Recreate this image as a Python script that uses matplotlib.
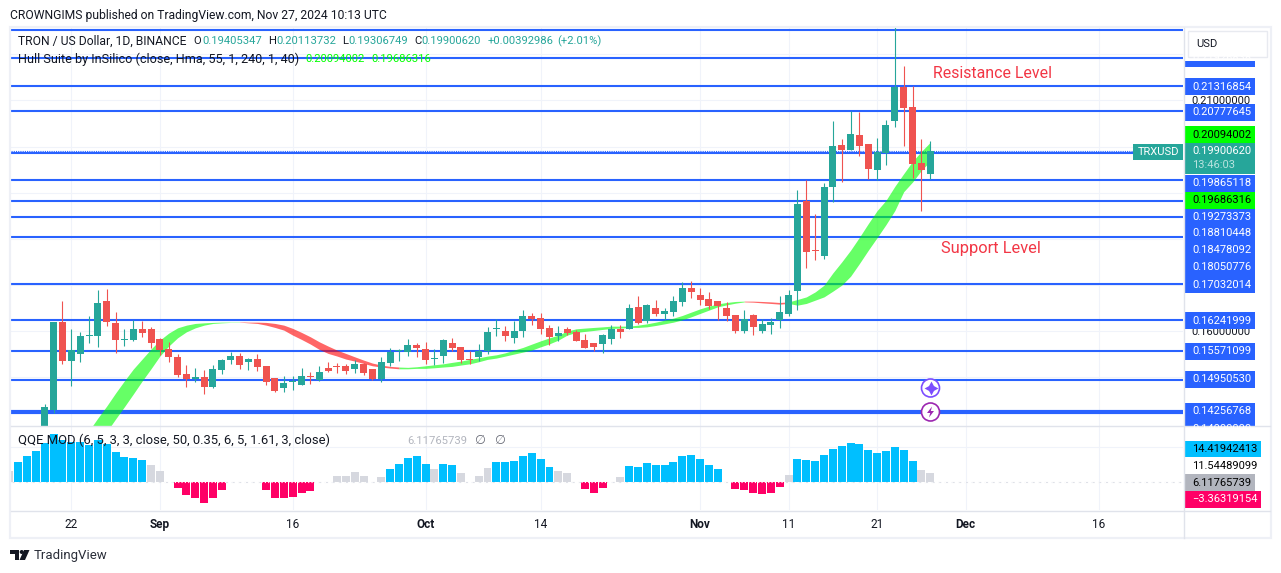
import matplotlib
matplotlib.use('Agg')
import matplotlib.pyplot as plt
from matplotlib.patches import Rectangle, Circle, Polygon
from matplotlib.ticker import FixedLocator

plt.rcParams['font.family'] = ['Roboto', 'DejaVu Sans']

# candles, day 0 = Aug 22 2024, first candle is day -3
candle_start = -3
opens = [.13640, .14290, .16195, .15351, .15503, .15892, .15892, .16650, .16174, .15806,
         .15806, .16044, .16044, .15828, .15611, .15438, .15070, .14962, .15005, .14789,
         .15157, .15373, .15460, .15330, .15395, .15243, .14983, .14767, .14897, .14832,
         .15027, .14940, .15200, .15243, .15243, .15178, .15286, .15178, .14962, .15308,
         .15568, .15546, .15698, .15611, .15395, .15460, .15741, .15654, .15395, .15438,
         .15568, .16044, .16001, .15849, .16001, .16325, .16282, .16066, .15892, .16044,
         .15979, .15806, .15741, .15719, .15828, .16044, .16044, .16520, .16217, .16498,
         .16368, .16412, .16628, .16931, .16779, .16693, .16650, .16498, .16347, .16001,
         .16347, .16001, .16130, .16239, .16368, .16866, .18814, .17753, .17624, .19117,
         .20026, .19918, .20242, .20048, .19485, .19853, .20545, .21281, .20849, .19637,
         .19405]
highs = [.14420, .16195, .16650, .16044, .15979, .16325, .16888, .16909, .16412, .16044,
         .16239, .16217, .16087, .15849, .15763, .15503, .15265, .15200, .15157, .15265,
         .15395, .15546, .15525, .15416, .15503, .15243, .14983, .15027, .15027, .15200,
         .15113, .15243, .15330, .15308, .15286, .15373, .15308, .15178, .15438, .15633,
         .15611, .15828, .15741, .15763, .15611, .15828, .15849, .15654, .15568, .15719,
         .16087, .16260, .16109, .16217, .16455, .16390, .16390, .16130, .16109, .16087,
         .16022, .15936, .15741, .15936, .16130, .16130, .16585, .16758, .16585, .16671,
         .16498, .16758, .17061, .17082, .16931, .16844, .16650, .16628, .16347, .16455,
         .16368, .16260, .16282, .16758, .16888, .19052, .19268, .18532, .19203, .20545,
         .20156, .20762, .20740, .20048, .20178, .20567, .22732, .21736, .21303, .20156,
         .20114]
lows = [.13532, .14225, .15286, .14810, .15330, .15741, .15654, .16109, .15525, .15676,
        .15784, .15871, .15633, .15481, .15330, .15005, .14789, .14897, .14637, .14767,
        .15070, .15286, .15178, .15157, .15135, .14832, .14681, .14681, .14724, .14832,
        .14854, .14919, .15113, .15092, .15070, .15092, .15048, .14940, .14897, .15243,
        .15351, .15460, .15438, .15286, .15265, .15308, .15568, .15308, .15286, .15351,
        .15503, .15892, .15784, .15741, .15871, .16130, .15936, .15698, .15784, .15914,
        .15784, .15633, .15568, .15525, .15719, .15849, .16044, .16152, .16174, .16325,
        .16239, .16325, .16541, .16715, .16563, .16477, .16239, .16217, .15957, .15957,
        .15914, .15957, .15936, .16066, .16325, .16455, .17364, .17537, .17558, .18792,
        .19225, .19918, .19788, .19290, .19268, .19593, .20416, .20004, .19312, .18597,
        .19307]
closes = [.14355, .16195, .15351, .15589, .15892, .15914, .16606, .16195, .15806, .15828,
          .16044, .15957, .15741, .15589, .15438, .15048, .14962, .15005, .14789, .15178,
          .15373, .15460, .15265, .15395, .15222, .14897, .14702, .14875, .14919, .15027,
          .15005, .15113, .15135, .15222, .15135, .15286, .15092, .14962, .15330, .15546,
          .15589, .15698, .15633, .15373, .15416, .15806, .15633, .15373, .15373, .15568,
          .15979, .16066, .15892, .16001, .16325, .16260, .16044, .15871, .15957, .15957,
          .15784, .15633, .15654, .15914, .16044, .15979, .16498, .16174, .16563, .16368,
          .16433, .16650, .16931, .16844, .16671, .16541, .16541, .16325, .16001, .16260,
          .16087, .16152, .16195, .16412, .16779, .18749, .17710, .17732, .19117, .20004,
          .19918, .20264, .20004, .19506, .19874, .20459, .21281, .20827, .19615, .19485,
          .19900]

# hull band, first value is day 2
hull_start = 2
hull_upper = [.13842, .14117, .14377, .14658, .14924, .15178, .15395, .15611, .15806, .15957,
              .16071, .16130, .16167, .16180, .16189, .16195, .16195, .16201, .16195, .16195,
              .16189, .16167, .16130, .16059, .15972, .15877, .15769, .15676, .15589, .15517,
              .15444, .15373, .15308, .15265, .15236, .15222, .15215, .15228, .15249, .15271,
              .15292, .15323, .15351, .15388, .15422, .15459, .15487, .15530, .15589, .15647,
              .15719, .15790, .15855, .15914, .16001, .16050, .16066, .16080, .16093, .16108,
              .16108, .16108, .16130, .16158, .16195, .16239, .16282, .16340, .16412, .16483,
              .16541, .16591, .16621, .16643, .16650, .16650, .16643, .16634, .16621, .16634,
              .16686, .16742, .16850, .16996, .17262, .17500, .17753, .18035, .18331, .18613,
              .18835, .19139, .19413, .19680, .19896, .20094]
hull_lower = [.13273, .13554, .13820, .14095, .14362, .14637, .14919, .15184, .15460, .15676,
              .15855, .15985, .16071, .16130, .16167, .16180, .16189, .16195, .16180, .16167,
              .16130, .16080, .16022, .15914, .15820, .15719, .15604, .15517, .15460, .15395,
              .15351, .15301, .15249, .15222, .15200, .15184, .15184, .15193, .15193, .15206,
              .15222, .15236, .15265, .15292, .15336, .15388, .15416, .15459, .15503, .15546,
              .15589, .15660, .15725, .15806, .15914, .15972, .15994, .16015, .16037, .16059,
              .16066, .16080, .16080, .16093, .16123, .16158, .16195, .16245, .16310, .16383,
              .16455, .16526, .16569, .16606, .16634, .16628, .16613, .16600, .16585, .16600,
              .16563, .16600, .16671, .16742, .16866, .16996, .17190, .17465, .17753, .18028,
              .18309, .18613, .19022, .19232, .19485, .19686]
hull_phases = [(2, 19, '#00ff00'), (19, 37, '#ff0000'), (37, 76, '#00ff00'), (76, 81, '#ff0000'), (81, 97, '#00ff00')]

# horizontal lines drawn on the chart
level_prices = [.22537, .21909, .21316854, .20777645, .19865118, .19273373, .18810448, .18478092,
                .18050776, .17032014, .16241999, .15571099, .14950530]
thick_level = .14256768
last_price = .19900620

# qqe histogram, first value is day -7
qqe_start = -7
qqe_values = [7.7, 14.2, 18.5, 22.1, 27.8, 34.3, 30, 28.6, 28.6, 26.4, 30, 27.1, 21.4, 17.8, 17, 15.6, 12, 7.7, 0,
              -4.6, -9.6, -11.8, -15.4, -11.8, -6, 0, 0, 0, 0, -6, -11.8, -11.8, -11, -8.2, -6.7, 0, 0,
              4.1, 4.1, 7, 4.1, 0, 3.4, 9.1, 12.7, 17, 18.5, 12.7, 9.1, 12.7, 12, 6.2, 0, 4.1, 9.8, 14.2, 14.2,
              14.9, 18.5, 20.6, 16.3, 10.6, 7.7, 6.2, 0, -5.3, -8.2, -4.6, 0, 3.4, 11.3, 10.6, 13.4, 12, 12,
              14.2, 18.5, 19.2, 16.3, 12, 9.1, 0, -5.3, -6, -8.2, -8.9, -8.2, -3.8, 4.8, 16.3, 15.6, 14.9,
              19.2, 23.5, 25.7, 27.8, 27.1, 22.8, 20.6, 22.1, 25, 22.8, 14.9, 8.4, 6.12]
qqe_grey_days = [-7, 9, 10, 30, 31, 32, 33, 35, 41, 44, 46, 47, 55, 56, 62, 81, 96, 97]

# x axis
tick_days = [0, 10, 25, 40, 53, 71, 81, 91, 101, 116]
tick_labels = ['22', 'Sep', '16', 'Oct', '14', 'Nov', '11', '21', 'Dec', '16']
month_labels = ['Sep', 'Oct', 'Nov', 'Dec']
price_ticks = [.15, .16, .17, .18, .19, .20, .21, .22]
shown_price_ticks = [.16, .21]  # the others sit behind the price tags

# price tags on the right: text, centre y, box colour, text colour
price_tags = [('0.21926838', 58, '#2962ff', 'white'),
              ('0.21316854', 86.5, '#2962ff', 'white'),
              ('0.20777645', 112, '#2962ff', 'white'),
              ('0.20094002', 134.5, '#00ff00', 'black'),
              ('0.19865118', 183, '#2962ff', 'white'),
              ('0.19686316', 200, '#00ff00', 'black'),
              ('0.19273373', 217, '#2962ff', 'white'),
              ('0.18810448', 233.5, '#2962ff', 'white'),
              ('0.18478092', 250, '#2962ff', 'white'),
              ('0.18050776', 267.5, '#2962ff', 'white'),
              ('0.17032014', 284.5, '#2962ff', 'white'),
              ('0.16241999', 320.5, '#2962ff', 'white'),
              ('0.15571099', 351.5, '#2962ff', 'white'),
              ('0.14950530', 379.5, '#2962ff', 'white'),
              ('0.14256768', 411.5, '#2962ff', 'white'),
              ('0.14000000', 428.5, '#2962ff', 'white')]

TEAL = '#26a69a'
RED = '#ef5350'
BLUE = '#2962ff'
GRID = '#f0f3fa'
BORDER = '#e0e3eb'
DARK = '#131722'

fig = plt.figure(figsize=(12.81, 5.73), dpi=100)
W, H = 1281.0, 573.0
ax = fig.add_axes([11 / W, 1 - 426 / H, 1172 / W, 398 / H])  # price pane
ax2 = fig.add_axes([11 / W, 1 - 510 / H, 1172 / W, 83 / H], sharex=ax)  # qqe pane

ax.set_xlim(-6.81, 125.54)
ax.set_ylim(.13944, .2257)
ax2.set_ylim(-20.4, 39.4)

for a in (ax, ax2):
    a.set_axisbelow(True)
    a.xaxis.set_major_locator(FixedLocator(tick_days))
    a.grid(True, color=GRID, lw=.8)
    for s in a.spines.values():
        s.set_visible(False)
    a.tick_params(length=0)
ax.tick_params(axis='x', labelbottom=False)

ax.yaxis.tick_right()
ax.set_yticks(price_ticks)
ax.set_yticklabels([f'{p:.8f}' if p in shown_price_ticks else '' for p in price_ticks], fontsize=8, color=DARK)
ax.tick_params(axis='y', pad=6)

ax2.set_yticks([25])
ax2.set_yticklabels([])
ax2.set_xticklabels(tick_labels, fontsize=8.5, color=DARK)
ax2.tick_params(axis='x', pad=6)
for t in ax2.get_xticklabels():
    if t.get_text() in month_labels:
        t.set_fontweight('bold')

# blue levels, then the band on top of them, then the candles
for p in level_prices:
    ax.axhline(p, color=BLUE, lw=1.5, zorder=1)
ax.axhline(thick_level, color=BLUE, lw=3, zorder=1)
ax.axhline(last_price, color=BLUE, lw=.8, ls=(0, (1, 1)), zorder=1)

hull_days = [hull_start + i for i in range(len(hull_upper))]
for start, end, col in hull_phases:
    i0, i1 = start - hull_start, end - hull_start + 1
    ax.fill_between(hull_days[i0:i1], hull_lower[i0:i1], hull_upper[i0:i1], color=col, alpha=.6, lw=0, zorder=2)

for i in range(len(opens)):
    day = candle_start + i
    col = TEAL if closes[i] >= opens[i] else RED
    ax.vlines(day, lows[i], highs[i], color=col, lw=.8, zorder=3)
    ax.bar(day, abs(closes[i] - opens[i]), bottom=min(opens[i], closes[i]), width=.79, color=col, lw=0, zorder=4)

# qqe pane
ax2.axhline(0, color='#dfe1e8', lw=.8, ls=(0, (3, 3)), zorder=1)
for i, v in enumerate(qqe_values):
    day = qqe_start + i
    if v == 0:
        continue
    if v < 0:
        col = '#ff0066'
    elif day in qqe_grey_days:
        col = '#d6d8df'
    else:
        col = '#00bfff'
    ax2.bar(day, v, width=.9, color=col, lw=0, zorder=2)
ax2.axhline(0, color='white', lw=.8, ls=(0, (1, 2)), zorder=3)

# overlay in pixel coordinates for the labels and frame
ov = fig.add_axes([0, 0, 1, 1], zorder=10)
ov.set_xlim(0, W)
ov.set_ylim(H, 0)
ov.axis('off')
ov.patch.set_alpha(0)


def label(x, y, s, color=DARK, size=8.5, **kw):
    ov.text(x, y, s, color=color, fontsize=size, va='center', ha=kw.pop('ha', 'left'), **kw)


def tag(x0, x1, y0, y1, color):
    ov.add_patch(Rectangle((x0, y0), x1 - x0, y1 - y0, color=color, lw=0))


label(10, 15, 'CROWNGIMS published on TradingView.com, Nov 27, 2024 10:13 UTC', size=8.7)

label(18, 41.5, 'TRON / US Dollar, 1D, BINANCE', size=8.7)
for x, s, c in [(193, 'O', DARK), (202, '0.19405347', TEAL), (268, 'H', DARK), (276, '0.20113732', TEAL),
                (342, 'L', DARK), (348, '0.19306749', TEAL), (414, 'C', DARK), (421, '0.19900620', TEAL),
                (488, '+0.00392986', TEAL), (557, '(+2.01%)', TEAL)]:
    label(x, 41.5, s, c, size=8.1)
label(18, 59, 'Hull Suite by InSilico (close, Hma, 55, 1, 240, 1, 40)', size=9.1)
label(305, 59, '0.20094002', '#00ff00', size=8.1)
label(371, 59, '0.19686316', '#00ff00', size=8.1)

label(18, 440.5, 'QQE MOD (6, 5, 3, 3, close, 50, 0.35, 6, 5, 1.61, 3, close)', size=9.35)
label(407, 440.5, '6.11765739', '#b2b5be', size=8.1)
label(474, 440.5, '∅', '#6a6d78', size=9, family=['DejaVu Sans'])
label(494, 440.5, '∅', '#6a6d78', size=9, family=['DejaVu Sans'])

label(933, 73, 'Resistance Level', '#f23645', size=11.4)
label(941, 249, 'Support Level', '#f23645', size=11.8)

# signal icons
ov.add_patch(Circle((930.5, 388), 9, fc='white', ec='#7c4dff', lw=1.2))
ov.plot([930.5], [388], marker=(4, 1, 0), ms=10, color='#7c4dff', mew=0)
ov.add_patch(Circle((930.5, 412), 9, fc='white', ec='#9c27b0', lw=1.2))
ov.add_patch(Polygon([(932, 406.5), (927, 413), (930.2, 413), (929, 417.5), (934, 411), (930.8, 411)], color='#9c27b0', lw=0))

# right scale tags
for s, y, c, tc in price_tags:
    tag(1184, 1255, y - 8.5, y + 8.5, c)
    label(1192, y, s, tc, size=8)
tag(1184, 1255, 143, 174, TEAL)
label(1192, 151.5, '0.19900620', 'white', size=8)
label(1192, 165.5, '13:46:03', '#b9e3df', size=8)
tag(1133, 1183, 144, 160, TEAL)
label(1138, 152, 'TRXUSD', 'white', size=8)

# cut the clipped tags at the pane edges
tag(1184, 1270, 27, 60.5, 'white')
tag(1184, 1270, 426, 440, 'white')

ov.add_patch(Rectangle((1187.5, 31), 79, 26, fc='white', ec='#e8eaf0', lw=1))
label(1196, 44, 'USD', size=8)

tag(1184, 1261, 440.5, 457, '#00bfff')
label(1192, 449, '14.41942413', 'black', size=8)
label(1192, 466, '11.54489099', 'black', size=8)
tag(1184, 1255, 474, 491, '#b2b5be')
label(1192, 482.5, '6.11765739', 'black', size=8)
tag(1184, 1261, 491, 508, '#ff0066')
label(1192, 499.5, '−3.36319154', 'white', size=8)

# frame and pane separators
ov.add_patch(Rectangle((10, 27), 1260.5, 511, fc='none', ec='#eef0f6', lw=1.6))
ov.plot([11, 1270], [426, 426], color=BORDER, lw=1)
ov.plot([11, 1270], [510.5, 510.5], color=BORDER, lw=1)
ov.plot([1183.5, 1183.5], [28, 538], color=BORDER, lw=1)

# logo
ov.add_patch(Polygon([(10, 550), (19, 550), (19, 560), (14.5, 560), (14.5, 554), (10, 554)], color=DARK, lw=0))
ov.add_patch(Circle((21.7, 552), 2, color=DARK, lw=0))
ov.add_patch(Polygon([(24, 550), (29.5, 550), (25, 560), (19.5, 560)], color=DARK, lw=0))
label(34, 555, 'TradingView', '#2a2e39', size=9.5)

fig.savefig('out.png', dpi=100)
